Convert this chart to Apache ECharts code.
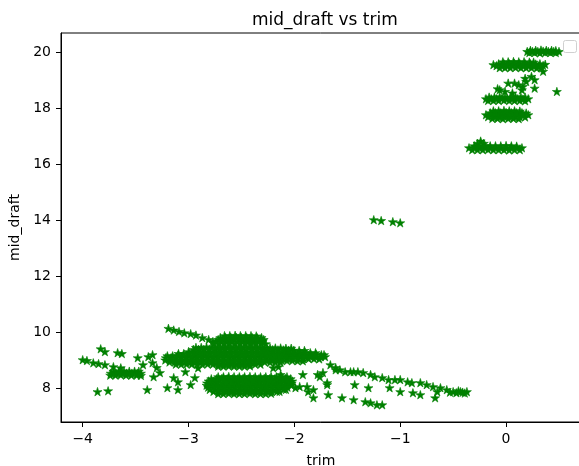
<!DOCTYPE html>
<html><head><meta charset="utf-8">
<script src="https://cdn.jsdelivr.net/npm/echarts@6/dist/echarts.min.js"></script>
<style>html,body{margin:0;padding:0;background:#fff}#c{width:579px;height:466px}</style>
</head><body><div id="c"></div>
<script>
const xTicks = [-4, -3, -2, -1, 0];
const yTicks = [8, 10, 12, 14, 16, 18, 20];

// upper group (trim ~ 0)
const blob20 = [[0.23,20.06],[0.28,20.06],[0.33,20.07],[0.38,20.06],[0.43,20.06],[0.47,20.05],
[0.20,20.02],[0.25,20.02],[0.30,20.02],[0.35,20.03],[0.40,20.02],[0.45,20.02],[0.50,20.02],
[0.22,19.98],[0.27,19.98],[0.32,19.97],[0.37,19.98],[0.42,19.98],[0.47,19.98]];
const blob195 = [[-0.03,19.65],[0.02,19.65],[0.07,19.66],[0.12,19.65],[0.17,19.65],[0.22,19.64],[0.26,19.64],
[-0.07,19.58],[-0.02,19.58],[0.03,19.58],[0.08,19.59],[0.13,19.58],[0.18,19.58],[0.23,19.58],[0.28,19.57],[0.32,19.58],
[-0.09,19.51],[-0.04,19.51],[0.01,19.51],[0.06,19.52],[0.11,19.51],[0.16,19.51],[0.21,19.51],[0.26,19.50],[0.31,19.51],[0.35,19.52],
[-0.06,19.44],[-0.01,19.44],[0.04,19.44],[0.09,19.45],[0.14,19.44],[0.19,19.44],[0.24,19.44],[0.29,19.43],[0.33,19.44],
[-0.12,19.55],[0.37,19.56],[0.35,19.31]];
const scatter190 = [[0.18,19.06],[0.24,19.13],[0.27,19.01],[0.19,18.95],[0.08,18.89],[0.12,18.83],[0.02,18.89],[0.16,18.77],[0.27,18.71],[0.15,18.65],[-0.06,18.65],[-0.01,18.59],[0.06,18.54],[0.48,18.59],[-0.08,18.69]];
const blob183 = [[-0.16,18.39],[-0.11,18.39],[-0.06,18.40],[-0.01,18.39],[0.04,18.39],[0.09,18.40],[0.14,18.39],[0.18,18.39],
[-0.19,18.33],[-0.14,18.33],[-0.09,18.33],[-0.04,18.34],[0.01,18.33],[0.06,18.33],[0.11,18.33],[0.16,18.32],[0.21,18.33],
[-0.17,18.27],[-0.12,18.27],[-0.07,18.27],[-0.02,18.28],[0.03,18.27],[0.08,18.27],[0.13,18.27],[0.18,18.26]];
const blob178 = [[-0.12,17.90],[-0.07,17.90],[-0.02,17.91],[0.03,17.90],[0.08,17.90],[0.13,17.89],
[-0.15,17.83],[-0.10,17.83],[-0.05,17.83],[0.00,17.84],[0.05,17.83],[0.10,17.83],[0.15,17.83],[0.19,17.82],
[-0.19,17.76],[-0.14,17.76],[-0.09,17.77],[-0.04,17.76],[0.01,17.76],[0.06,17.76],[0.11,17.77],[0.16,17.76],[0.21,17.76],
[-0.17,17.69],[-0.12,17.69],[-0.07,17.69],[-0.02,17.70],[0.03,17.69],[0.08,17.69],[0.13,17.69],[0.18,17.68],
[-0.13,17.63],[-0.08,17.63],[-0.03,17.62],[0.02,17.63],[0.07,17.63],[0.12,17.62]];
const blob165 = [[-0.24,16.82],[-0.27,16.74],[-0.21,16.74],
[-0.30,16.65],[-0.25,16.65],[-0.20,16.66],[-0.15,16.65],[-0.10,16.65],[-0.05,16.65],[0.00,16.66],[0.05,16.65],[0.10,16.64],
[-0.35,16.58],[-0.30,16.58],[-0.25,16.58],[-0.20,16.59],[-0.15,16.58],[-0.10,16.58],[-0.05,16.58],[0.00,16.57],[0.05,16.58],[0.10,16.58],[0.15,16.58],
[-0.32,16.51],[-0.27,16.51],[-0.22,16.51],[-0.17,16.52],[-0.12,16.51],[-0.07,16.51],[-0.02,16.51],[0.03,16.50],[0.08,16.51],[0.13,16.51]];
const mid14 = [[-1.25,14.01],[-1.18,13.98],[-1.07,13.94],[-1.00,13.90]];

// lower group (trim -4 .. -0.3)
const streak100 = [[-3.19,10.13],[-3.14,10.07],[-3.09,10.02],[-3.04,9.97],[-2.98,9.94],[-2.93,9.89],[-2.87,9.80],[-2.81,9.73],[-2.77,9.66]];
const blob97 = [[-2.66,9.87],[-2.61,9.87],[-2.56,9.88],[-2.51,9.87],[-2.46,9.87],[-2.41,9.87],[-2.36,9.86],
[-2.70,9.80],[-2.65,9.80],[-2.60,9.80],[-2.55,9.81],[-2.50,9.80],[-2.45,9.80],[-2.40,9.80],[-2.35,9.79],[-2.31,9.80],
[-2.72,9.73],[-2.67,9.73],[-2.62,9.73],[-2.57,9.74],[-2.52,9.73],[-2.47,9.73],[-2.42,9.73],[-2.37,9.72],[-2.32,9.73],[-2.29,9.73],
[-2.74,9.66],[-2.69,9.66],[-2.64,9.66],[-2.59,9.67],[-2.54,9.66],[-2.49,9.66],[-2.44,9.66],[-2.39,9.65],[-2.34,9.66],[-2.30,9.66],
[-2.76,9.59],[-2.71,9.59],[-2.66,9.59],[-2.61,9.60],[-2.56,9.59],[-2.51,9.59],[-2.46,9.59],[-2.41,9.58],[-2.36,9.59],[-2.31,9.59],[-2.27,9.58]];
const band945 = [[-2.93,9.45],[-2.88,9.45],[-2.83,9.46],[-2.78,9.45],[-2.73,9.45],[-2.68,9.45],[-2.63,9.46],[-2.58,9.45],[-2.53,9.45],[-2.48,9.45],[-2.43,9.46],[-2.38,9.45],[-2.33,9.45],[-2.28,9.44],[-2.23,9.44],[-2.18,9.43],[-2.13,9.43],[-2.08,9.42],[-2.03,9.42]];
const band938 = [[-2.955,9.38],[-2.905,9.38],[-2.855,9.38],[-2.805,9.39],[-2.755,9.38],[-2.705,9.38],[-2.655,9.38],[-2.605,9.39],[-2.555,9.38],[-2.505,9.38],[-2.455,9.38],[-2.405,9.39],[-2.355,9.38],[-2.305,9.38],[-2.255,9.37],[-2.205,9.37],[-2.155,9.36],[-2.105,9.36],[-2.055,9.35],[-2.005,9.35],[-1.955,9.34],[-1.905,9.34]];
const band930 = [[-3.00,9.30],[-2.95,9.30],[-2.90,9.31],[-2.85,9.30],[-2.80,9.30],[-2.75,9.30],[-2.70,9.31],[-2.65,9.30],[-2.60,9.30],[-2.55,9.30],[-2.50,9.31],[-2.45,9.30],[-2.40,9.30],[-2.35,9.30],[-2.30,9.31],[-2.25,9.30],[-2.20,9.30],[-2.15,9.29],[-2.10,9.29],[-2.05,9.28],[-2.00,9.28],[-1.95,9.27],[-1.90,9.27],[-1.85,9.26],[-1.80,9.26]];
const band923 = [[-3.095,9.23],[-3.045,9.23],[-2.995,9.24],[-2.945,9.23],[-2.895,9.23],[-2.845,9.23],[-2.795,9.24],[-2.745,9.23],[-2.695,9.23],[-2.645,9.23],[-2.595,9.24],[-2.545,9.23],[-2.495,9.23],[-2.445,9.23],[-2.395,9.24],[-2.345,9.23],[-2.295,9.23],[-2.245,9.23],[-2.195,9.22],[-2.145,9.22],[-2.095,9.22],[-2.045,9.21],[-1.995,9.21],[-1.945,9.21],[-1.895,9.20],[-1.845,9.20],[-1.795,9.20],[-1.745,9.19],[-1.72,9.19]];
const band915 = [[-3.20,9.15],[-3.15,9.15],[-3.10,9.16],[-3.05,9.15],[-3.00,9.15],[-2.95,9.15],[-2.90,9.16],[-2.85,9.15],[-2.80,9.15],[-2.75,9.15],[-2.70,9.16],[-2.65,9.15],[-2.60,9.15],[-2.55,9.15],[-2.50,9.16],[-2.45,9.15],[-2.40,9.15],[-2.35,9.15],[-2.30,9.16],[-2.25,9.15],[-2.20,9.15],[-2.15,9.15],[-2.10,9.14],[-2.05,9.14],[-2.00,9.14],[-1.95,9.13],[-1.90,9.13],[-1.85,9.13],[-1.80,9.12],[-1.75,9.12],[-1.71,9.12]];
const band908 = [[-3.215,9.08],[-3.165,9.08],[-3.115,9.08],[-3.065,9.09],[-3.015,9.08],[-2.965,9.08],[-2.915,9.08],[-2.865,9.09],[-2.815,9.08],[-2.765,9.08],[-2.715,9.08],[-2.665,9.09],[-2.615,9.08],[-2.565,9.08],[-2.515,9.08],[-2.465,9.09],[-2.415,9.08],[-2.365,9.08],[-2.315,9.08],[-2.265,9.08],[-2.215,9.07],[-2.165,9.07],[-2.115,9.07],[-2.065,9.06],[-2.015,9.06],[-1.965,9.06],[-1.915,9.05],[-1.865,9.05],[-1.815,9.05],[-1.765,9.04]];
const band900 = [[-3.22,9.00],[-3.17,9.00],[-3.12,9.01],[-3.07,9.00],[-3.02,9.00],[-2.97,9.00],[-2.92,9.01],[-2.87,9.00],[-2.82,9.00],[-2.77,9.00],[-2.72,9.01],[-2.67,9.00],[-2.62,9.00],[-2.57,9.00],[-2.52,9.01],[-2.47,9.00],[-2.42,9.00],[-2.37,9.00],[-2.32,9.01],[-2.27,9.00],[-2.22,9.00],[-2.17,8.99],[-2.12,8.99],[-2.07,8.98],[-2.02,8.98],[-1.97,8.97],[-1.92,8.97]];
const band893 = [[-3.18,8.93],[-3.13,8.93],[-3.08,8.93],[-3.03,8.94],[-2.98,8.93],[-2.93,8.93],[-2.88,8.93],[-2.83,8.94],[-2.78,8.93],[-2.73,8.93],[-2.68,8.93],[-2.63,8.94],[-2.58,8.93],[-2.53,8.93],[-2.48,8.93],[-2.43,8.94],[-2.38,8.93],[-2.33,8.93],[-2.28,8.93],[-2.23,8.92],[-2.18,8.92],[-2.13,8.92]];
const band885 = [[-3.12,8.85],[-3.07,8.85],[-3.02,8.86],[-2.97,8.85],[-2.92,8.85],[-2.87,8.85],[-2.82,8.86],[-2.77,8.85],[-2.72,8.85],[-2.67,8.85],[-2.62,8.86],[-2.57,8.85],[-2.52,8.85],[-2.47,8.85],[-2.42,8.86],[-2.37,8.85],[-2.32,8.85]];
const band878 = [[-2.72,8.78],[-2.67,8.78],[-2.62,8.79],[-2.57,8.78],[-2.52,8.78],[-2.47,8.78],[-2.42,8.79]];
const low840 = [[-2.72,8.40],[-2.67,8.40],[-2.62,8.41],[-2.57,8.40],[-2.52,8.40],[-2.47,8.40],[-2.42,8.41],[-2.37,8.40],[-2.32,8.40],[-2.27,8.40],[-2.22,8.41],[-2.17,8.40],[-2.12,8.40],[-2.07,8.40]];
const low833 = [[-2.785,8.33],[-2.735,8.33],[-2.685,8.34],[-2.635,8.33],[-2.585,8.33],[-2.535,8.33],[-2.485,8.34],[-2.435,8.33],[-2.385,8.33],[-2.335,8.33],[-2.285,8.34],[-2.235,8.33],[-2.185,8.33],[-2.135,8.33],[-2.085,8.34],[-2.035,8.33]];
const low825 = [[-2.81,8.25],[-2.76,8.25],[-2.71,8.26],[-2.66,8.25],[-2.61,8.25],[-2.56,8.25],[-2.51,8.26],[-2.46,8.25],[-2.41,8.25],[-2.36,8.25],[-2.31,8.26],[-2.26,8.25],[-2.21,8.25],[-2.16,8.25],[-2.11,8.26],[-2.06,8.25],[-2.02,8.25]];
const low818 = [[-2.825,8.18],[-2.775,8.18],[-2.725,8.19],[-2.675,8.18],[-2.625,8.18],[-2.575,8.18],[-2.525,8.19],[-2.475,8.18],[-2.425,8.18],[-2.375,8.18],[-2.325,8.19],[-2.275,8.18],[-2.225,8.18],[-2.175,8.18],[-2.125,8.19],[-2.075,8.18],[-2.025,8.18]];
const low810 = [[-2.83,8.10],[-2.78,8.10],[-2.73,8.11],[-2.68,8.10],[-2.63,8.10],[-2.58,8.10],[-2.53,8.11],[-2.48,8.10],[-2.43,8.10],[-2.38,8.10],[-2.33,8.11],[-2.28,8.10],[-2.23,8.10],[-2.18,8.10],[-2.13,8.11],[-2.08,8.10],[-2.03,8.10]];
const low803 = [[-2.815,8.03],[-2.765,8.03],[-2.715,8.04],[-2.665,8.03],[-2.615,8.03],[-2.565,8.03],[-2.515,8.04],[-2.465,8.03],[-2.415,8.03],[-2.365,8.03],[-2.315,8.04],[-2.265,8.03],[-2.215,8.03],[-2.165,8.03],[-2.115,8.04],[-2.065,8.03]];
const low795 = [[-2.80,7.95],[-2.75,7.95],[-2.70,7.96],[-2.65,7.95],[-2.60,7.95],[-2.55,7.95],[-2.50,7.96],[-2.45,7.95],[-2.40,7.95],[-2.35,7.95],[-2.30,7.96],[-2.25,7.95],[-2.20,7.95],[-2.15,7.95],[-2.10,7.96],[-2.08,7.95]];
const low788 = [[-2.765,7.88],[-2.715,7.88],[-2.665,7.89],[-2.615,7.88],[-2.565,7.88],[-2.515,7.88],[-2.465,7.89],[-2.415,7.88],[-2.365,7.88],[-2.315,7.88],[-2.265,7.89],[-2.215,7.88],[-2.165,7.88],[-2.14,7.88]];
const low780 = [[-2.72,7.80],[-2.67,7.80],[-2.62,7.81],[-2.57,7.80],[-2.52,7.80],[-2.47,7.80],[-2.42,7.81],[-2.37,7.80],[-2.32,7.80],[-2.27,7.80],[-2.22,7.81]];
const blob84 = [[-3.71,8.60],[-3.66,8.60],[-3.61,8.61],[-3.56,8.60],[-3.51,8.60],[-3.47,8.60],
[-3.735,8.53],[-3.685,8.53],[-3.635,8.54],[-3.585,8.53],[-3.535,8.53],[-3.485,8.53],[-3.45,8.53],
[-3.74,8.46],[-3.69,8.46],[-3.64,8.47],[-3.59,8.46],[-3.54,8.46],[-3.49,8.46],[-3.45,8.45]];
const leftStars = [[-4.00,9.01],[-3.96,8.98],[-3.90,8.90],[-3.85,8.87],[-3.79,8.83],[-3.71,8.76],[-3.64,8.72],[-3.83,9.40],[-3.79,9.30],[-3.67,9.26],[-3.63,9.23],[-3.48,9.08],[-3.38,9.12],[-3.34,9.19],[-3.43,8.83],[-3.34,8.90],[-3.30,8.73],[-3.39,7.94],[-3.33,8.40],[-3.27,8.55],[-3.20,8.01],[-3.10,7.94],[-3.10,8.22],[-3.14,8.37],[-3.86,7.87],[-3.76,7.90],[-3.03,8.58],[-2.94,8.37],[-2.98,8.12],[-2.91,8.72]];
const rightStars = [[-2.20,8.72],[-2.15,8.76],[-2.13,8.48],[-2.07,8.30],[-1.99,8.01],[-1.95,8.05],[-1.87,7.87],[-1.82,7.65],[-1.92,8.48],[-1.78,8.48],[-1.69,8.12],[-1.88,8.05],[-1.82,7.94],[-1.76,8.40],[-1.73,8.55],[-1.66,8.83],[-1.61,8.73],[-1.57,8.65],[-1.52,8.58],[-1.47,8.58],[-1.44,8.58],[-1.40,8.58],[-1.35,8.55],[-1.28,8.48],[-1.24,8.40],[-1.17,8.37],[-1.11,8.30],[-1.05,8.30],[-1.00,8.30],[-0.93,8.22],[-0.89,8.19],[-0.81,8.19],[-0.75,8.12],[-0.69,8.05],[-0.62,8.01],[-0.56,7.94],[-0.50,7.87],[-0.43,7.87],[-0.37,7.87],[-0.53,7.85],[-0.47,7.83],[-0.41,7.85],[-0.45,7.90],[-0.39,7.82],[-1.68,7.76],[-1.55,7.65],[-1.44,7.58],[-1.33,7.51],[-1.28,7.47],[-1.22,7.40],[-1.17,7.40],[-1.69,8.19],[-1.43,8.12],[-1.30,8.01],[-1.10,8.01],[-1.00,7.87],[-0.88,7.83],[-0.81,7.76],[-0.67,7.65],[-0.65,7.87],[-1.61,8.65]];

const allPoints = [].concat(blob20, blob195, scatter190, blob183, blob178, blob165, mid14,
  streak100, blob97, band945, band938, band930, band923, band915, band908, band900, band893, band885, band878,
  low840, low833, low825, low818, low810, low803, low795, low788, low780,
  blob84, leftStars, rightStars);

const STAR = 'path://M50,0L61,35L98,35L68,57L79,91L50,70L21,91L32,57L2,35L39,35Z';
const FONT = 'DejaVu Sans';
const minus = v => String(v).replace('-', '\u2212');

const chart = echarts.init(document.getElementById('c'), null, {renderer: 'canvas'});
chart.setOption({
  animation: false,
  backgroundColor: '#fff',
  title: {
    text: 'mid_draft vs trim', left: 247, top: 7,
    textStyle: {fontFamily: FONT, fontSize: 17, fontWeight: 'normal', color: '#000'}
  },
  grid: {left: 61, top: 33, width: 520, height: 389, outerBoundsMode: 'none', containLabel: false,
    show: true, borderColor: '#000', borderWidth: 1, backgroundColor: '#fff'},
  xAxis: {
    type: 'value', min: -4.205, max: 0.708,
    name: 'trim', nameLocation: 'middle', nameGap: 32,
    nameTextStyle: {fontFamily: FONT, fontSize: 14, color: '#000'},
    axisLine: {show: true, onZero: false, lineStyle: {color: '#000', width: 1}},
    axisTick: {show: true, length: 5, customValues: xTicks, lineStyle: {color: '#000', width: 1}},
    axisLabel: {customValues: xTicks, fontFamily: FONT, fontSize: 14, color: '#000', margin: 10, formatter: minus},
    splitLine: {show: false}
  },
  yAxis: {
    type: 'value', min: 6.786, max: 20.68,
    name: 'mid_draft', nameLocation: 'middle', nameGap: 36,
    nameTextStyle: {fontFamily: FONT, fontSize: 14, color: '#000'},
    axisLine: {show: true, onZero: false, lineStyle: {color: '#000', width: 1}},
    axisTick: {show: true, length: 5, customValues: yTicks, lineStyle: {color: '#000', width: 1}},
    axisLabel: {customValues: yTicks, fontFamily: FONT, fontSize: 14, color: '#000', margin: 10, formatter: minus},
    splitLine: {show: false}
  },
  graphic: [{
    type: 'rect', left: 563, top: 40, z: 100,
    shape: {width: 13, height: 12, r: 2},
    style: {fill: 'rgba(255,255,255,0.8)', stroke: '#d0d0d0', lineWidth: 1}
  }],
  series: [{
    type: 'scatter',
    data: allPoints,
    symbol: STAR,
    symbolSize: 9,
    symbolKeepAspect: true,
    itemStyle: {color: '#008000', borderColor: '#008000', borderWidth: 0.6, opacity: 1},
    emphasis: {disabled: true}
  }]
});
</script>
</body></html>
